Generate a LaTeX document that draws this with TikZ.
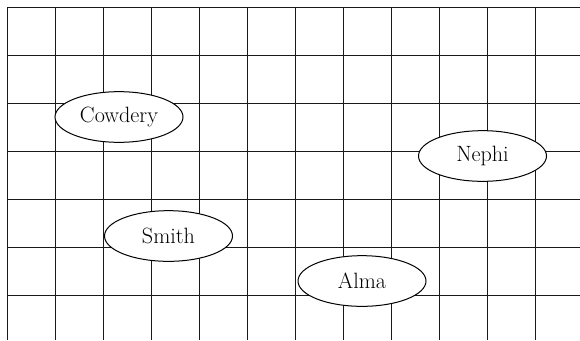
\documentclass[tikz,border=0pt]{standalone}
\usetikzlibrary{shapes.geometric}
\tikzset{
  gridline/.style={line width=0.75pt, color={rgb, 255:red, 25; green, 25; blue, 25}},
  namebox/.style={ellipse, draw, fill=white, line width=0.75pt, minimum width=96pt, minimum height=38pt, inner sep=0pt, font=\fontsize{16.6}{19}\selectfont}
}
\begin{document}
\begin{tikzpicture}[x=0.75pt,y=0.75pt,yscale=-1,xscale=1]
        \useasboundingbox (0,0) rectangle (580,340);
        
        %Grid lines
        \foreach \gx in {0,...,11}
            \draw [gridline] (7+48*\gx,7.5) -- (7+48*\gx,340) ;
        \foreach \gy in {0,...,6}
            \draw [gridline] (7,7.5+48*\gy) -- (580,7.5+48*\gy) ;
        
        % Name Nodes
        \node [namebox] (cowdery) at (119,117) {Cowdery};
        \node [namebox] (nephi) at (482.5,156) {Nephi};
        \node [namebox] (smith) at (168.5,236) {Smith};
        \node [namebox] (alma) at (362,281) {Alma};
        
\end{tikzpicture}
\end{document}
